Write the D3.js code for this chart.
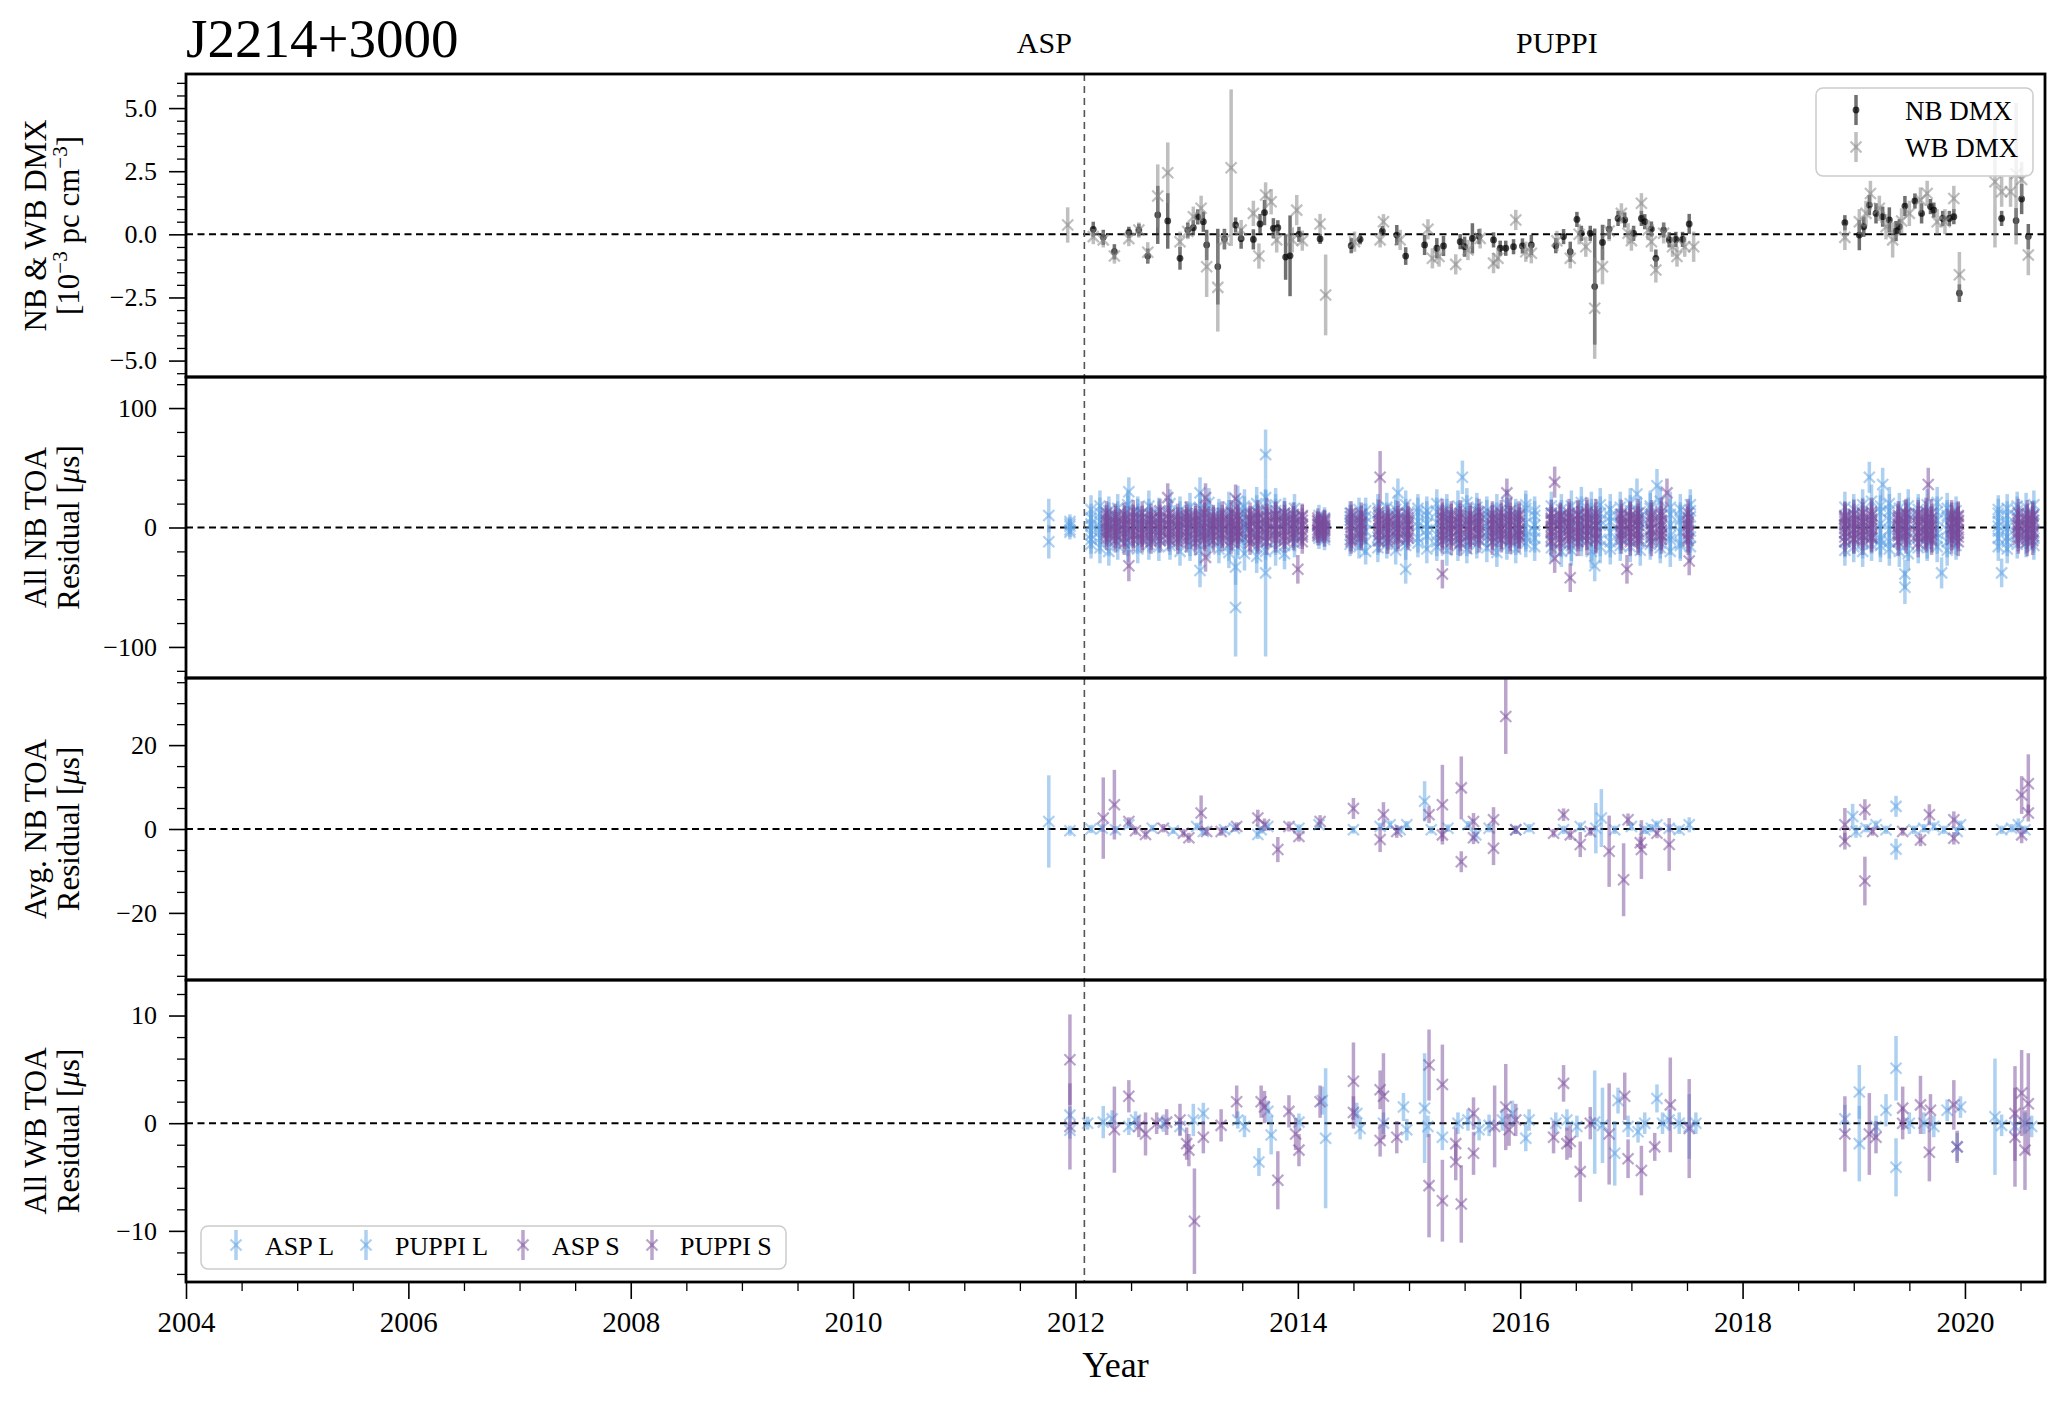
<html>
<head>
<style>
  body { margin: 0; background: white; }
  svg text { font-family: "Liberation Serif", "Times New Roman", serif; fill: black; }
</style>
<script src="https://cdn.jsdelivr.net/npm/d3@7"></script>
</head>
<body>
<svg id="chart"></svg>
<script>
// DMX values, [year, value, error] in 10^-3 pc cm^-3
let nbDmx = [
  [2012.16, 0.20, 0.30], [2012.25, -0.12, 0.30], [2012.35, -0.69, 0.30], [2012.48, 0.08, 0.22],
  [2012.57, 0.17, 0.25], [2012.65, -0.86, 0.30], [2012.74, 0.77, 1.15], [2012.83, 0.53, 1.10],
  [2012.94, -0.95, 0.45], [2013.01, 0.17, 0.30], [2013.06, 0.26, 0.30], [2013.10, 0.69, 0.30],
  [2013.15, 0.50, 0.40], [2013.18, -0.42, 0.60], [2013.28, -1.28, 1.50], [2013.34, -0.18, 0.40],
  [2013.44, 0.37, 0.30], [2013.49, -0.17, 0.40], [2013.60, -0.20, 0.40], [2013.66, 0.41, 0.40],
  [2013.70, 0.86, 0.50], [2013.78, 0.24, 0.40], [2013.82, 0.26, 0.30], [2013.89, -0.90, 0.90],
  [2013.93, -0.85, 1.60], [2014.01, 0.00, 0.30], [2014.20, -0.18, 0.20], [2014.48, -0.45, 0.30],
  [2014.56, -0.20, 0.20], [2014.76, 0.13, 0.20], [2014.89, -0.03, 0.40], [2014.97, -0.86, 0.35],
  [2015.14, -0.42, 0.40], [2015.25, -0.55, 0.40], [2015.31, -0.46, 0.40], [2015.46, -0.29, 0.30],
  [2015.50, -0.49, 0.40], [2015.57, -0.16, 0.60], [2015.63, -0.09, 0.30], [2015.76, -0.22, 0.30],
  [2015.82, -0.55, 0.30], [2015.87, -0.55, 0.30], [2015.94, -0.49, 0.30], [2016.02, -0.46, 0.30],
  [2016.10, -0.42, 0.40], [2016.32, -0.45, 0.30], [2016.39, -0.09, 0.30], [2016.45, -0.69, 0.40],
  [2016.51, 0.59, 0.30], [2016.55, 0.04, 0.30], [2016.63, 0.04, 0.30], [2016.67, -2.07, 2.30],
  [2016.74, -0.32, 0.70], [2016.80, 0.21, 0.40], [2016.88, 0.63, 0.30], [2016.94, 0.57, 0.30],
  [2017.02, 0.04, 0.30], [2017.09, 0.63, 0.30], [2017.12, 0.50, 0.30], [2017.18, 0.21, 0.30],
  [2017.22, -0.95, 0.35], [2017.29, 0.17, 0.30], [2017.34, -0.22, 0.30], [2017.40, -0.20, 0.30],
  [2017.46, -0.20, 0.30], [2017.52, 0.41, 0.40], [2018.92, 0.46, 0.30], [2019.05, -0.03, 0.60],
  [2019.09, 0.30, 0.40], [2019.14, 1.16, 0.40], [2019.20, 0.83, 0.40], [2019.26, 0.70, 0.40],
  [2019.32, 0.57, 0.50], [2019.38, 0.13, 0.40], [2019.41, 0.30, 0.30], [2019.46, 1.12, 0.40],
  [2019.55, 1.32, 0.30], [2019.61, 0.83, 0.40], [2019.69, 1.10, 0.30], [2019.72, 0.96, 0.30],
  [2019.80, 0.63, 0.30], [2019.86, 0.63, 0.30], [2019.90, 0.70, 0.30], [2019.95, -2.33, 0.35],
  [2020.33, 0.63, 0.30], [2020.46, 0.54, 0.50], [2020.51, 1.40, 0.60], [2020.57, -0.09, 0.50]
]
let wbDmx = [
  [2011.93, 0.37, 0.70], [2012.16, -0.09, 0.30], [2012.25, -0.22, 0.30], [2012.35, -0.86, 0.30],
  [2012.48, -0.17, 0.30], [2012.57, 0.17, 0.30], [2012.65, -0.71, 0.40], [2012.74, 1.52, 1.25],
  [2012.83, 2.44, 1.20], [2012.94, -0.29, 0.40], [2013.01, 0.11, 0.30], [2013.06, 0.70, 0.40],
  [2013.13, 1.03, 0.50], [2013.18, -1.28, 1.20], [2013.28, -2.10, 1.75], [2013.34, -0.22, 0.40],
  [2013.40, 2.64, 3.10], [2013.49, 0.17, 0.40], [2013.60, 0.83, 0.50], [2013.65, -0.86, 0.50],
  [2013.71, 1.56, 0.50], [2013.76, 1.29, 0.50], [2013.81, -0.22, 0.50], [2013.95, -0.22, 0.50],
  [2013.99, 0.96, 0.60], [2014.04, -0.25, 0.40], [2014.20, 0.41, 0.40], [2014.25, -2.40, 1.60],
  [2014.51, -0.29, 0.40], [2014.74, -0.22, 0.30], [2014.77, 0.50, 0.30], [2014.92, -0.22, 0.40],
  [2015.17, 0.20, 0.40], [2015.21, -0.95, 0.40], [2015.27, -0.88, 0.40], [2015.42, -1.19, 0.40],
  [2015.53, -0.62, 0.40], [2015.64, -0.16, 0.40], [2015.76, -1.14, 0.40], [2015.80, -0.95, 0.40],
  [2015.96, 0.57, 0.40], [2016.05, -0.69, 0.40], [2016.10, -0.75, 0.40], [2016.33, -0.26, 0.40],
  [2016.45, -0.95, 0.40], [2016.53, 0.00, 0.40], [2016.59, -0.49, 0.40], [2016.67, -2.93, 2.00],
  [2016.74, -1.28, 0.70], [2016.80, 0.13, 0.40], [2016.91, 0.83, 0.40], [2016.97, 0.04, 0.40],
  [2017.00, -0.25, 0.40], [2017.09, 1.23, 0.40], [2017.15, 0.17, 0.40], [2017.18, -0.29, 0.40],
  [2017.22, -1.41, 0.50], [2017.29, 0.04, 0.40], [2017.37, -0.49, 0.40], [2017.41, -0.88, 0.40],
  [2017.48, -0.49, 0.40], [2017.56, -0.49, 0.60], [2018.92, -0.12, 0.50], [2019.05, 0.50, 0.50],
  [2019.11, 0.83, 0.50], [2019.15, 1.62, 0.50], [2019.23, 1.03, 0.50], [2019.29, 0.30, 0.50],
  [2019.35, -0.22, 0.70], [2019.43, 0.53, 0.50], [2019.50, 0.83, 0.50], [2019.60, 1.36, 0.50],
  [2019.66, 1.62, 0.50], [2019.75, 0.50, 0.50], [2019.82, 0.50, 0.50], [2019.90, 1.42, 0.50],
  [2019.95, -1.60, 0.90], [2020.27, 2.08, 2.60], [2020.33, 1.69, 0.60], [2020.41, 1.69, 0.60],
  [2020.46, 2.40, 2.80], [2020.51, 2.17, 0.70], [2020.57, -0.82, 0.80]
]

// all narrowband TOA residuals (us), one row per epoch: [year, error, residuals...]
let nbAllAspL = [
  [2011.76, 14, 10, -12],
  [2011.95, 6, 3, -4, 1, -2, 5]
]
let nbAllL = [
  [2012.14, 12, 8, -10, 15, -6, 3, -14, 1], [2012.22, 13, 18, -9, 5, -17, 12, -3, -1],
  [2012.30, 12, -20, 9, -4, 14, -12, 6, 2], [2012.38, 12, 10, -8, 16, -15, 4, -2],
  [2012.47, 12, 15, -12, 6, -5, 19, -17], [2012.56, 12, -10, 12, 3, -18, 8, 14],
  [2012.66, 13, 7, -14, 18, 2, -8, 11], [2012.75, 12, -5, 10, -16, 13, 1, -9],
  [2012.85, 12, 12, -3, 20, -11, 7, -15], [2012.94, 12, -8, 14, -20, 5, 10, -2],
  [2013.03, 12, 4, -12, 9, 17, -6, -16], [2013.12, 13, 11, -7, 2, -19, 16, -4],
  [2013.20, 12, -14, 6, 13, -9, 21, 0], [2013.29, 12, 9, -18, -3, 12, -11, 5],
  [2013.38, 13, -6, 17, 10, -15, 3, -21], [2013.46, 13, 14, -10, 22, -4, 7, -13],
  [2013.52, 14, -9, 12, -22, 18, 4, -1, 2], [2013.63, 14, 20, -16, 8, -7, 13, -24],
  [2013.71, 15, -12, 25, 5, -20, 16, -3], [2013.80, 14, 10, -18, 19, -9, -2, 14],
  [2013.88, 13, -15, 6, 12, -22, 3, 9], [2013.97, 12, 5, -8, 16, -13, 9, -4],
  [2014.19, 9, 4, -6, 10, -9, 2], [2014.24, 9, -7, 8, -2, 5, -10],
  [2014.47, 10, 12, -10, 6, -14, 3, 9], [2014.55, 10, -5, 15, -9, 2, -16, 7],
  [2014.61, 11, 9, -12, 14, -3, -20, 4], [2014.72, 12, -11, 16, 5, -8, 12, -17],
  [2014.80, 12, 17, -6, -14, 9, 2, -10], [2014.88, 12, -3, 11, -19, 15, 6, -8],
  [2014.97, 12, 8, -15, 12, -4, 19, -11], [2015.08, 12, -13, 5, 16, -9, 1, 13],
  [2015.16, 12, 10, -18, 3, 14, -7, -2], [2015.25, 12, -6, 13, -12, 20, 4, -16],
  [2015.34, 13, 15, -9, 7, -19, 11, -1], [2015.44, 13, -10, 18, -3, 9, -15, 5],
  [2015.52, 12, 6, -12, 15, -7, 21, -18], [2015.61, 12, -14, 8, 2, -10, 13, 17],
  [2015.70, 12, 11, -4, -17, 14, -8, 3], [2015.79, 12, -7, 16, 9, -13, 5, -21],
  [2015.88, 12, 13, -10, 20, -2, -15, 7], [2015.96, 12, -5, 9, -18, 12, 1, -11],
  [2016.05, 12, 16, -13, 4, -6, 19, -8], [2016.13, 12, -9, 14, -3, 10, -16, 2],
  [2016.28, 12, 7, -17, 12, 18, -5, -12], [2016.37, 13, -12, 10, -20, 6, 15, -2],
  [2016.46, 13, 18, -8, 3, -15, 9, -19], [2016.55, 13, -4, 13, -11, 21, -7, 5],
  [2016.64, 14, 10, -20, 16, -3, 7, -14], [2016.72, 14, -16, 6, 19, -10, 2, 12],
  [2016.81, 13, 5, -12, -4, 15, -18, 9], [2016.90, 13, -9, 17, 11, -6, 3, -15],
  [2016.99, 13, 14, -3, -16, 8, 20, -10], [2017.08, 13, -11, 9, 4, -19, 13, 1],
  [2017.17, 13, 8, -14, 18, -2, -9, 16], [2017.26, 13, -6, 12, -13, 22, 5, -17],
  [2017.35, 13, 17, -10, 2, -7, 11, -20], [2017.44, 13, -13, 15, -4, 8, -15, 6],
  [2017.53, 13, 9, -16, 14, -8, 19, -3], [2018.92, 13, -12, 8, 17, -5, 3, -19],
  [2019.00, 13, 15, -9, 6, -16, 11, -2], [2019.08, 13, -7, 19, -13, 4, 12, -20],
  [2019.16, 14, 10, -4, 22, -14, -8, 6], [2019.24, 14, -15, 13, 3, -9, 18, -11],
  [2019.32, 14, 6, -18, 14, -2, -12, 20], [2019.41, 13, -10, 9, -20, 16, 1, -6],
  [2019.49, 14, 18, -14, 7, -22, 11, -3], [2019.58, 13, -4, 15, -9, 12, -17, 5],
  [2019.66, 13, 11, -7, 19, -13, 2, -15], [2019.75, 13, -16, 6, 13, -5, 21, -9],
  [2019.84, 13, 8, -12, -2, 16, -19, 10], [2019.92, 12, -6, 14, -15, 4, 9, -11],
  [2020.30, 12, 12, -9, 5, -16, 15, -3, 1], [2020.38, 12, -8, 16, -12, 3, 10, -18, 0],
  [2020.47, 12, 14, -5, 9, -14, -1, 18], [2020.55, 12, -10, 7, 17, -6, 2, -13],
  [2020.62, 12, 6, -15, 11, -9, 19, -4]
]
let nbAllS = [
  [2012.28, 10, 4, -6, 9, -2, 1, -9, 6, -4, 12], [2012.36, 10, -7, 3, 8, -11, 0, 5, -3, 10, -5],
  [2012.44, 10, 6, -8, -1, 11, -5, 2, 8, -13, 3], [2012.52, 10, -3, 9, -7, 4, 13, -10, 1, -5, 7],
  [2012.60, 10, 8, -4, 2, -9, 5, -1, 12, -6, -11], [2012.68, 10, -9, 6, -2, 10, -6, 3, -12, 7, 1],
  [2012.76, 10, 2, -11, 7, -3, 9, -7, 4, 14, -1], [2012.84, 10, -5, 8, -10, 1, 6, -2, 11, -8, 3],
  [2012.92, 10, 10, -3, 5, -12, 2, 7, -6, 0, -9], [2013.00, 10, -1, 7, -8, 12, -4, 3, -11, 9, 5],
  [2013.08, 10, 6, -9, 1, -5, 10, -13, 4, -2, 8], [2013.16, 10, -8, 4, 11, -3, -6, 8, 0, -10, 13],
  [2013.24, 10, 3, -7, 9, -11, 5, 1, -4, 7, -2], [2013.32, 10, -10, 12, -1, 6, -7, 2, 9, -5, 4],
  [2013.40, 10, 7, -2, -9, 4, 13, -6, 1, -12, 5], [2013.46, 10, -4, 9, 2, -8, 6, -1, 10, -3, -7],
  [2013.57, 10, 5, -10, 8, 0, -5, 11, -3, 6, -13], [2013.64, 11, -6, 3, 12, -9, 7, -2, -11, 9, 1],
  [2013.72, 11, 9, -5, -1, 6, -12, 4, 14, -7, 2], [2013.80, 11, -2, 10, -7, 3, 8, -10, 5, -4, 11],
  [2013.88, 10, 4, -8, 6, -3, -11, 9, 0, 12, -6], [2013.96, 10, -9, 2, 7, -5, 11, -1, -7, 4, 8],
  [2014.04, 10, 3, -6, 9, -12, 1, 6, -3, 10, -8], [2014.18, 8, -4, 5, 2, -7, 8, -2, 3, -5, 6],
  [2014.24, 8, 6, -3, -8, 4, 1, 7, -5, 2, -1], [2014.48, 10, -7, 9, 3, -4, 12, -10, 6, 0, -12],
  [2014.57, 10, 8, -2, -9, 5, -5, 11, 2, -7, 4], [2014.73, 10, -3, 7, -11, 10, 2, -6, 13, -1, 5],
  [2014.81, 10, 5, -9, 4, -2, 9, -12, 1, 7, -5], [2014.90, 10, -8, 6, 12, -4, 3, -1, -10, 8, 0],
  [2014.99, 10, 2, -5, 8, -9, 11, 4, -3, -7, 6], [2015.30, 11, -6, 10, 1, -11, 5, 8, -3, 13, -8],
  [2015.38, 11, 9, -4, -8, 3, -12, 6, 11, -1, 2], [2015.46, 11, -2, 12, -6, 7, 0, -9, 4, -13, 9],
  [2015.55, 11, 7, -7, 3, -3, 10, -11, 1, 5, -5], [2015.63, 11, -10, 4, 9, -6, 2, 13, -4, 6, -1],
  [2015.75, 11, 3, -8, -2, 11, -5, 7, -12, 1, 8], [2015.83, 11, -5, 9, 6, -10, 12, -2, 4, -7, 0],
  [2015.91, 11, 10, -3, -9, 2, 7, -6, 14, -11, 5], [2015.99, 11, -1, 6, -7, 9, -3, 11, -10, 3, -6],
  [2016.28, 11, 5, -11, 8, -4, 1, -8, 12, 6, -2], [2016.36, 11, -9, 3, -1, 10, -6, 7, -13, 2, 9],
  [2016.44, 12, 7, -5, 12, -10, 4, -2, 9, -7, 1], [2016.52, 12, -4, 10, -8, 2, -12, 6, 0, 11, -6],
  [2016.60, 12, 11, -7, 3, -3, 8, -11, 5, -1, 13], [2016.68, 12, -6, 2, 9, -9, 6, 1, -4, 12, -10],
  [2016.91, 12, 4, -10, -3, 8, -7, 11, 2, -5, 6], [2016.99, 12, -8, 7, 10, -1, 3, -12, 9, -4, 0],
  [2017.06, 12, 6, -3, -11, 5, -6, 2, 12, -9, 8], [2017.18, 12, -2, 9, 4, -8, 11, -5, -1, 7, -12],
  [2017.27, 12, 10, -6, 1, -10, 6, 3, -7, 13, -3], [2017.51, 12, -5, 8, -9, 3, 12, -2, 5, -11, 1],
  [2018.92, 12, 7, -4, 10, -8, 2, -12, 5, -1, 9], [2019.00, 12, -9, 5, -2, 11, -6, 8, -10, 3, 0],
  [2019.08, 12, 4, -7, 12, -3, 6, -11, 1, 9, -5], [2019.16, 12, -6, 10, -9, 2, -1, 7, 13, -8, 4],
  [2019.40, 12, 8, -5, 3, -12, 10, -2, 6, -7, 1], [2019.47, 12, -3, 11, -7, 5, -10, 2, 8, -4, 12],
  [2019.58, 12, 9, -8, 1, -4, 6, -13, 3, 11, -6], [2019.65, 12, -7, 4, 10, -2, -9, 7, -5, 2, 13],
  [2019.70, 12, 5, -11, -3, 8, 1, -6, 12, -9, 3], [2019.88, 12, -4, 7, -10, 11, -1, 4, -7, 9, 0],
  [2019.94, 12, 6, -2, 9, -8, 3, -12, 5, -5, 10], [2020.48, 12, -8, 12, 2, -5, 7, -10, 4, 1, -3],
  [2020.56, 12, 3, -9, 11, -1, -6, 8, -12, 6, 0], [2020.61, 12, -5, 6, -7, 10, 2, -3, 9, -11, 4]
]
// single TOAs standing off the epoch clusters: [year, residual, error]
let nbAllOutL = [
  [2012.48, 30, 12], [2013.12, -36, 14], [2013.12, 29, 13], [2013.44, -67, 41],
  [2013.44, -33, 15], [2013.71, 61, 21], [2013.71, -38, 70], [2014.90, 29, 12],
  [2014.97, -35, 12], [2015.48, 42, 14], [2016.67, -32, 13], [2017.05, 28, 13],
  [2017.23, 35, 14], [2019.14, 42, 13], [2019.26, 36, 14], [2019.46, -50, 14],
  [2019.46, -39, 12], [2019.79, -38, 13], [2020.33, -38, 12]
]
let nbAllOutS = [
  [2012.48, -32, 13], [2012.83, 25, 12], [2013.17, 25, 12], [2013.17, -25, 12],
  [2013.44, 24, 12], [2014.00, -35, 12], [2014.74, 42, 22], [2015.30, -39, 12],
  [2015.88, 29, 12], [2016.31, 38, 13], [2016.31, -26, 12], [2016.45, -42, 12],
  [2016.96, -35, 12], [2017.32, 29, 12], [2017.52, -28, 12], [2019.67, 36, 14]
]

// epoch averaged narrowband residuals: [year, residual, error] (us)
let avgAspL = [[2011.76, 1.8, 11.0], [2011.95, -0.4, 1.2]]
let avgL = [
  [2012.14, 0.0, 1.0], [2012.24, 0.2, 0.9], [2012.36, -0.2, 0.9], [2012.48, 1.0, 0.9],
  [2012.69, 0.2, 0.8], [2012.88, -0.4, 0.8], [2013.09, 0.6, 0.9], [2013.15, -0.6, 0.9],
  [2013.34, -0.2, 0.8], [2013.43, 0.2, 0.9], [2013.64, -1.3, 1.1], [2013.67, -0.2, 0.9],
  [2013.73, 0.6, 1.0], [2014.01, 0.2, 0.9], [2014.19, 1.0, 0.8], [2014.50, -0.2, 0.9],
  [2014.74, 0.6, 0.9], [2014.83, 1.0, 1.0], [2014.92, -0.2, 0.9], [2014.98, 1.0, 0.9],
  [2015.14, 6.6, 4.8], [2015.20, -0.2, 0.9], [2015.35, 0.2, 0.9], [2015.53, 1.0, 0.9],
  [2015.60, -1.4, 1.5], [2015.72, 0.2, 1.0], [2015.96, -0.2, 1.0], [2016.08, 0.2, 1.0],
  [2016.39, -0.2, 1.0], [2016.54, 0.6, 1.0], [2016.68, 0.2, 6.0], [2016.73, 2.6, 6.9],
  [2016.85, -0.2, 1.0], [2017.00, 0.6, 1.0], [2017.12, -0.2, 1.0], [2017.18, 0.2, 1.0],
  [2017.23, 1.0, 1.0], [2017.34, 0.2, 1.0], [2017.43, -0.2, 1.0], [2017.52, 1.0, 1.8],
  [2018.99, 3.0, 3.0], [2019.02, -0.6, 1.5], [2019.11, 0.2, 1.0], [2019.20, 1.0, 1.0],
  [2019.29, -0.2, 1.0], [2019.38, 5.4, 2.5], [2019.38, -4.8, 2.5], [2019.54, -0.2, 1.0],
  [2019.63, 0.2, 1.0], [2019.72, 0.6, 1.0], [2019.81, -0.2, 1.0], [2019.93, -0.6, 1.0],
  [2019.96, 1.0, 1.0], [2020.33, -0.2, 1.0], [2020.42, 0.2, 1.0], [2020.48, 1.0, 1.5],
  [2020.54, -0.2, 1.0]
]
let avgS = [
  [2012.25, 2.6, 9.7], [2012.35, 5.8, 8.3], [2012.48, 1.8, 1.0], [2012.54, -0.4, 1.0],
  [2012.63, -1.3, 1.2], [2012.79, 0.2, 1.0], [2012.97, -1.0, 1.0], [2013.02, -2.1, 1.2],
  [2013.13, 3.8, 4.2], [2013.18, -0.6, 1.0], [2013.31, -0.6, 1.0], [2013.45, 0.6, 1.0],
  [2013.64, 2.6, 2.0], [2013.70, 1.0, 1.5], [2013.82, -4.9, 3.0], [2013.92, 0.6, 1.2],
  [2014.01, -1.8, 1.2], [2014.20, 1.8, 1.5], [2014.50, 4.9, 2.5], [2014.77, 3.4, 3.0],
  [2014.74, -2.5, 3.0], [2014.89, -0.6, 1.5], [2015.18, 3.4, 2.0], [2015.30, 5.8, 9.5],
  [2015.30, -1.4, 1.5], [2015.47, 9.8, 7.5], [2015.47, -7.8, 2.5], [2015.58, 1.8, 2.0],
  [2015.58, -2.1, 1.5], [2015.76, 2.2, 3.0], [2015.76, -4.6, 4.0], [2015.87, 26.8, 8.9],
  [2015.96, -0.2, 1.0], [2016.30, -1.0, 1.0], [2016.39, 3.4, 1.5], [2016.45, -1.4, 1.2],
  [2016.54, -3.7, 3.0], [2016.63, -0.6, 1.0], [2016.80, -5.3, 8.5], [2016.93, -12.1, 8.7],
  [2016.97, 2.2, 1.5], [2017.08, -3.3, 1.5], [2017.09, -4.9, 7.0], [2017.23, -1.0, 1.2],
  [2017.34, -3.7, 6.3], [2018.92, 1.0, 4.0], [2018.92, -2.9, 2.0], [2019.10, 4.6, 2.5],
  [2019.10, -12.4, 5.8], [2019.17, -0.6, 1.0], [2019.44, -0.6, 1.0], [2019.60, -2.6, 1.5],
  [2019.68, 3.4, 2.5], [2019.90, 2.2, 2.0], [2019.90, -2.2, 1.5], [2020.51, 8.1, 4.5],
  [2020.57, 10.8, 7.0], [2020.57, 3.8, 2.0], [2020.51, -1.4, 2.0]
]

// wideband residuals: [year, residual, error] (us)
let wbAspL = [[2011.95, 0.75, 0.8], [2011.95, -0.65, 0.8]]
let wbAspS = [[2011.95, 5.9, 4.2], [2011.95, -0.3, 4.0]]
let wbL = [
  [2012.11, 0.0, 0.6], [2012.25, 0.1, 1.5], [2012.33, 0.4, 0.8], [2012.48, -0.3, 0.8],
  [2012.54, 0.3, 0.8], [2012.79, 0.0, 0.8], [2012.94, -0.3, 0.8], [2013.06, 0.3, 1.5],
  [2013.15, 0.9, 1.0], [2013.46, 0.3, 0.8], [2013.52, -0.3, 1.0], [2013.65, -3.6, 1.3],
  [2013.73, 1.1, 1.0], [2013.76, -1.1, 1.8], [2014.01, 0.1, 0.8], [2014.22, 2.1, 1.3],
  [2014.25, -1.4, 6.5], [2014.53, 0.9, 1.0], [2014.56, -0.5, 1.0], [2014.77, 0.0, 1.0],
  [2014.95, 1.5, 1.3], [2014.98, -0.6, 1.0], [2015.14, 1.4, 5.1], [2015.17, -0.3, 1.0],
  [2015.30, -1.3, 1.2], [2015.44, 0.0, 1.0], [2015.53, 0.3, 1.0], [2015.63, -0.6, 1.0],
  [2015.72, -0.2, 1.0], [2015.84, 0.3, 1.0], [2015.93, 0.9, 1.2], [2016.05, -1.4, 1.2],
  [2016.08, 0.3, 1.0], [2016.32, 0.0, 1.0], [2016.42, 0.3, 1.0], [2016.51, -0.3, 1.0],
  [2016.67, 0.1, 4.8], [2016.74, -0.2, 3.5], [2016.85, -2.8, 3.0], [2016.88, 2.1, 1.2],
  [2016.97, -0.3, 1.0], [2017.06, -0.8, 1.0], [2017.12, 0.0, 1.0], [2017.23, 2.3, 1.3],
  [2017.28, 0.0, 1.0], [2017.34, 0.3, 1.0], [2017.43, 0.0, 1.0], [2017.52, -0.3, 3.0],
  [2017.58, 0.0, 1.0], [2018.92, 0.4, 1.3], [2019.05, 2.9, 2.5], [2019.05, -1.9, 3.5],
  [2019.20, -0.3, 1.0], [2019.29, 1.2, 1.5], [2019.38, 5.1, 3.0], [2019.38, -4.1, 2.7],
  [2019.50, 0.0, 1.0], [2019.63, 0.0, 1.0], [2019.72, -0.3, 1.0], [2019.84, 1.2, 1.0],
  [2019.93, -2.2, 1.3], [2019.96, 1.5, 1.0], [2020.27, 0.6, 5.4], [2020.33, -0.2, 1.0],
  [2020.45, -0.3, 1.0], [2020.54, 0.0, 1.0], [2020.60, -0.3, 1.0]
]
let wbS = [
  [2012.35, -0.6, 4.0], [2012.48, 2.5, 1.5], [2012.57, -0.3, 1.0], [2012.63, -1.0, 2.0],
  [2012.73, 0.0, 1.0], [2012.82, 0.1, 1.2], [2012.94, 0.3, 1.5], [2013.00, -1.9, 1.5],
  [2013.02, -2.5, 1.5], [2013.07, -9.1, 4.9], [2013.15, -1.3, 1.5], [2013.31, -0.2, 1.5],
  [2013.45, 2.0, 1.5], [2013.67, 2.0, 1.5], [2013.70, 1.5, 1.5], [2013.82, -5.3, 2.7],
  [2013.92, 1.1, 1.5], [2013.98, -1.0, 1.5], [2014.01, -2.5, 1.5], [2014.20, 2.0, 1.5],
  [2014.50, 3.9, 3.6], [2014.50, 1.0, 1.5], [2014.74, 3.1, 1.8], [2014.77, 2.5, 4.0],
  [2014.74, -1.6, 1.5], [2014.89, -1.3, 1.5], [2015.18, 5.4, 3.3], [2015.18, -5.8, 4.8],
  [2015.30, 3.6, 3.7], [2015.30, -7.2, 3.8], [2015.42, -1.9, 1.5], [2015.42, -3.6, 1.7],
  [2015.47, -7.5, 3.6], [2015.58, 0.9, 1.5], [2015.58, -2.8, 2.0], [2015.77, -0.3, 3.8],
  [2015.87, 1.5, 4.0], [2015.90, -0.6, 1.5], [2015.96, 0.3, 1.5], [2016.30, -1.3, 1.5],
  [2016.39, 3.7, 1.7], [2016.42, -1.9, 1.5], [2016.45, -1.7, 1.5], [2016.54, -4.5, 2.8],
  [2016.63, 0.0, 1.5], [2016.80, -1.0, 4.7], [2016.94, 2.5, 2.2], [2016.97, -3.3, 1.8],
  [2017.09, -4.4, 2.3], [2017.21, -2.2, 1.3], [2017.35, 1.7, 4.4], [2017.52, -0.5, 4.6],
  [2018.92, -1.0, 3.5], [2019.14, -1.0, 3.8], [2019.20, -1.3, 1.5], [2019.44, 1.4, 2.0],
  [2019.44, 0.0, 1.5], [2019.60, 1.7, 2.7], [2019.68, -2.7, 2.7], [2019.69, 1.2, 1.5],
  [2019.90, 1.7, 2.3], [2019.93, -2.2, 1.5], [2020.45, 0.9, 4.4], [2020.45, -1.3, 4.6],
  [2020.51, 2.8, 4.0], [2020.54, -2.5, 3.7], [2020.57, 1.8, 4.7]
]

let xTicks = [2004, 2006, 2008, 2010, 2012, 2014, 2016, 2018, 2020]
let yTicks = [[-5, -2.5, 0, 2.5, 5], [-100, 0, 100], [-20, 0, 20], [-10, 0, 10]]
let yMinorStep = [0.5, 20, 5, 2]
let yDomains = [[-5.65, 6.35], [-126, 126], [-36, 36], [-14.75, 13.3]]
let backendSwitch = 2012.08
let backends = [["ASP", 2011.72], ["PUPPI", 2016.33]]
let legendTop = ["NB DMX", "WB DMX"]
let legendBottom = ["ASP L", "PUPPI L", "ASP S", "PUPPI S"]

let width = 2065, height = 1404
let plotLeft = 186, plotRight = 2045
let panelTop = [74, 377, 678, 980], panelBottom = [377, 678, 980, 1282]
let blue = "#5da2e3", purple = "#7a4b9c"

let svg = d3.select("#chart").attr("width", width).attr("height", height)
svg.append("rect").attr("width", width).attr("height", height).attr("fill", "white")

let x = d3.scaleLinear().domain([2004, 2020.72]).range([plotLeft, plotRight])

function flattenEpochs(rows) {
  return rows.flatMap(r => r.slice(2).map(v => [r[0], v, r[1]]))
}

function xMark(size) {
  return `M${-size},${-size}L${size},${size}M${-size},${size}L${size},${-size}`
}

// error bar + marker for every point, drawn with matplotlib-like alpha
function drawErrorbars(g, data, y, style) {
  let pts = g.append("g").selectAll("g").data(data).enter().append("g")
  pts.append("line")
    .attr("x1", d => x(d[0])).attr("x2", d => x(d[0]))
    .attr("y1", d => y(d[1] - d[2])).attr("y2", d => y(d[1] + d[2]))
    .attr("stroke", style.barColor || style.color)
    .attr("stroke-opacity", style.barAlpha || style.alpha)
    .attr("stroke-width", 3.5)
  if (style.marker == "dot") {
    pts.append("circle")
      .attr("cx", d => x(d[0])).attr("cy", d => y(d[1])).attr("r", 3.4)
      .attr("fill", style.color).attr("fill-opacity", style.alpha)
  } else {
    pts.append("path")
      .attr("transform", d => `translate(${x(d[0])},${y(d[1])})`)
      .attr("d", xMark(5.5))
      .attr("fill", "none")
      .attr("stroke", style.color).attr("stroke-opacity", style.alpha)
      .attr("stroke-width", 2.2)
  }
}

function getPanel(i) {
  let y = d3.scaleLinear().domain(yDomains[i]).range([panelBottom[i], panelTop[i]])
  let clipId = "clip" + i
  svg.append("clipPath").attr("id", clipId).append("rect")
    .attr("x", plotLeft).attr("y", panelTop[i])
    .attr("width", plotRight - plotLeft).attr("height", panelBottom[i] - panelTop[i])
  let body = svg.append("g").attr("clip-path", `url(#${clipId})`)

  body.append("line")
    .attr("x1", plotLeft).attr("x2", plotRight).attr("y1", y(0)).attr("y2", y(0))
    .attr("stroke", "black").attr("stroke-width", 2).attr("stroke-dasharray", "7,4.5")
  body.append("line")
    .attr("x1", x(backendSwitch)).attr("x2", x(backendSwitch))
    .attr("y1", panelTop[i]).attr("y2", panelBottom[i])
    .attr("stroke", "#555").attr("stroke-width", 1.6).attr("stroke-dasharray", "7,5")
  return { y, body }
}

function drawYAxis(i, y) {
  let fmt = i == 0 ? d3.format(".1f") : d3.format("d")
  let major = svg.append("g").attr("transform", `translate(${plotLeft},0)`)
    .call(d3.axisLeft(y).tickValues(yTicks[i]).tickSize(17).tickPadding(12).tickFormat(fmt))
  major.select(".domain").remove()
  major.selectAll(".tick line").attr("stroke-width", 1.6)
  major.selectAll("text").attr("font-size", 26)
    .style("font-family", '"Liberation Serif", "Times New Roman", serif')

  let [lo, hi] = yDomains[i]
  let step = yMinorStep[i]
  let minors = d3.range(Math.ceil(lo / step) * step, hi, step)
    .filter(v => !yTicks[i].some(t => Math.abs(t - v) < 1e-9))
  let minor = svg.append("g").attr("transform", `translate(${plotLeft},0)`)
    .call(d3.axisLeft(y).tickValues(minors).tickSize(9).tickFormat(""))
  minor.select(".domain").remove()
  minor.selectAll(".tick line").attr("stroke-width", 1.3)
}

function drawYLabel(i, lines) {
  let cy = (panelTop[i] + panelBottom[i]) / 2
  let t1 = svg.append("text").attr("transform", `translate(46,${cy}) rotate(-90)`)
    .attr("text-anchor", "middle").attr("font-size", 31)
  t1.text(lines[0])
  let t2 = svg.append("text").attr("transform", `translate(79,${cy}) rotate(-90)`)
    .attr("text-anchor", "middle").attr("font-size", 31)
  lines[1].forEach(part => {
    let ts = t2.append("tspan").text(part.t)
    if (part.small) ts.attr("font-size", 21)
    if (part.dy) ts.attr("dy", part.dy)
    if (part.it) ts.attr("font-style", "italic")
  })
}

// panel 1: DMX
let p1 = getPanel(0)
drawErrorbars(p1.body, nbDmx, p1.y, { color: "black", alpha: 0.7, barColor: "#333", barAlpha: 0.7, marker: "dot" })
drawErrorbars(p1.body, wbDmx, p1.y, { color: "#8a8a8a", alpha: 0.55 })

// panel 2: all narrowband TOAs
let p2 = getPanel(1)
drawErrorbars(p2.body, flattenEpochs(nbAllAspL), p2.y, { color: blue, alpha: 0.5 })
drawErrorbars(p2.body, flattenEpochs(nbAllL).concat(nbAllOutL), p2.y, { color: blue, alpha: 0.5 })
drawErrorbars(p2.body, flattenEpochs(nbAllS).concat(nbAllOutS), p2.y, { color: purple, alpha: 0.5 })

// panel 3: epoch averaged narrowband
let p3 = getPanel(2)
drawErrorbars(p3.body, avgAspL, p3.y, { color: blue, alpha: 0.5 })
drawErrorbars(p3.body, avgL, p3.y, { color: blue, alpha: 0.5 })
drawErrorbars(p3.body, avgS, p3.y, { color: purple, alpha: 0.5 })

// panel 4: wideband
let p4 = getPanel(3)
drawErrorbars(p4.body, wbAspL, p4.y, { color: blue, alpha: 0.5 })
drawErrorbars(p4.body, wbL, p4.y, { color: blue, alpha: 0.5 })
drawErrorbars(p4.body, wbAspS, p4.y, { color: purple, alpha: 0.5 })
drawErrorbars(p4.body, wbS, p4.y, { color: purple, alpha: 0.5 })

let panels = [p1, p2, p3, p4]
panels.forEach((p, i) => drawYAxis(i, p.y))

drawYLabel(0, ["NB & WB DMX", [{ t: "[10" }, { t: "−3", small: true, dy: -12 }, { t: " pc cm", dy: 12 },
  { t: "−3", small: true, dy: -12 }, { t: "]", dy: 12 }]])
drawYLabel(1, ["All NB TOA", [{ t: "Residual [" }, { t: "μ", it: true }, { t: "s]" }]])
drawYLabel(2, ["Avg. NB TOA", [{ t: "Residual [" }, { t: "μ", it: true }, { t: "s]" }]])
drawYLabel(3, ["All WB TOA", [{ t: "Residual [" }, { t: "μ", it: true }, { t: "s]" }]])

// frames
panels.forEach((p, i) => {
  svg.append("rect").attr("x", plotLeft).attr("y", panelTop[i])
    .attr("width", plotRight - plotLeft).attr("height", panelBottom[i] - panelTop[i])
    .attr("fill", "none").attr("stroke", "black").attr("stroke-width", 2.8)
})

// x axis on the bottom panel only
let xMajor = svg.append("g").attr("transform", `translate(0,${panelBottom[3]})`)
  .call(d3.axisBottom(x).tickValues(xTicks).tickSize(17).tickPadding(12).tickFormat(d3.format("d")))
xMajor.select(".domain").remove()
xMajor.selectAll(".tick line").attr("stroke-width", 1.6)
xMajor.selectAll("text").attr("font-size", 29)
  .style("font-family", '"Liberation Serif", "Times New Roman", serif')
let xMinors = d3.range(2004.5, 2020.72, 0.5).filter(v => !xTicks.includes(v))
let xMinor = svg.append("g").attr("transform", `translate(0,${panelBottom[3]})`)
  .call(d3.axisBottom(x).tickValues(xMinors).tickSize(9).tickFormat(""))
xMinor.select(".domain").remove()
xMinor.selectAll(".tick line").attr("stroke-width", 1.3)

svg.append("text").attr("x", (plotLeft + plotRight) / 2).attr("y", 1377)
  .attr("text-anchor", "middle").attr("font-size", 36).text("Year")

// title and backend labels
svg.append("text").attr("x", plotLeft).attr("y", 57).attr("font-size", 55).text("J2214+3000")
backends.forEach(b => {
  svg.append("text").attr("x", x(b[1])).attr("y", 53).attr("text-anchor", "middle")
    .attr("font-size", 30).text(b[0])
})

// legend of the DMX panel
let lg1 = svg.append("g")
lg1.append("rect").attr("x", 1816).attr("y", 88).attr("width", 217).attr("height", 88).attr("rx", 7)
  .attr("fill", "white").attr("fill-opacity", 0.8).attr("stroke", "#cccccc").attr("stroke-width", 1.5)
legendTop.forEach((name, k) => {
  let cy = 110 + k * 37
  let item = lg1.append("g").attr("transform", `translate(1856,${cy})`)
  item.append("line").attr("y1", -15).attr("y2", 15)
    .attr("stroke", k == 0 ? "#333" : "#8a8a8a").attr("stroke-opacity", k == 0 ? 0.7 : 0.55).attr("stroke-width", 3.5)
  if (k == 0) item.append("circle").attr("r", 3.4).attr("fill", "black").attr("fill-opacity", 0.7)
  else item.append("path").attr("d", xMark(5.5)).attr("stroke", "#8a8a8a").attr("stroke-opacity", 0.55).attr("stroke-width", 2.2)
  lg1.append("text").attr("x", 1905).attr("y", cy + 10).attr("font-size", 27).text(name)
})

// legend of the receivers
let lg2 = svg.append("g")
lg2.append("rect").attr("x", 201).attr("y", 1226).attr("width", 585).attr("height", 43).attr("rx", 7)
  .attr("fill", "white").attr("fill-opacity", 0.8).attr("stroke", "#cccccc").attr("stroke-width", 1.5)
let markerX = [236, 366, 523, 652], textX = [265, 395, 552, 680]
legendBottom.forEach((name, k) => {
  let c = k < 2 ? blue : purple
  let item = lg2.append("g").attr("transform", `translate(${markerX[k]},1245)`)
  item.append("line").attr("y1", -15).attr("y2", 15).attr("stroke", c).attr("stroke-opacity", 0.5).attr("stroke-width", 3.5)
  item.append("path").attr("d", xMark(5.5)).attr("stroke", c).attr("stroke-opacity", 0.5).attr("stroke-width", 2.2)
  lg2.append("text").attr("x", textX[k]).attr("y", 1255).attr("font-size", 26).text(name)
})
</script>
</body>
</html>
